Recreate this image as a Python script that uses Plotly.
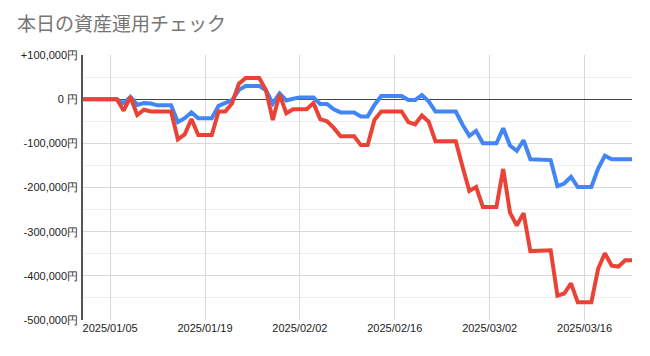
import pandas as pd
import plotly.graph_objects as go

dates = pd.date_range("2025-01-01", "2025-03-23", freq="D")

blue_values = [
    0, 0, 0, 0, 0, 0, -9000, 5000, -13000, -9000,
    -10000, -14000, -14000, -14000, -52000, -43000, -30000, -43000, -43000, -43000,
    -15000, -9000, -2000, 21000, 30000, 30000, 30000, 20000, -10000, 13000,
    -3000, 1000, 4000, 4000, 4000, -11000, -11000, -23000, -30000, -30000,
    -30000, -39000, -39000, -13000, 7000, 7000, 7000, 7000, -2000, -2000,
    9000, -5000, -28000, -28000, -28000, -28000, -58000, -83000, -72000, -100000,
    -100000, -100000, -66000, -105000, -117000, -93000, -136000, -136000, -136000, -138000,
    -197000, -191000, -176000, -199000, -199000, -199000, -157000, -128000, -136000, -136000,
    -136000, -136000,
]

red_values = [
    0, 0, 0, 0, 0, 0, -26000, 5000, -36000, -24000,
    -28000, -28000, -28000, -28000, -91000, -80000, -45000, -81000, -81000, -81000,
    -28000, -28000, -9000, 35000, 48000, 48000, 48000, 20000, -47000, 11000,
    -32000, -23000, -23000, -23000, -9000, -45000, -50000, -65000, -84000, -84000,
    -84000, -104000, -104000, -47000, -28000, -28000, -28000, -28000, -52000, -57000,
    -37000, -51000, -95000, -95000, -95000, -95000, -153000, -208000, -199000, -244000,
    -244000, -244000, -158000, -257000, -286000, -258000, -344000, -344000, -344000, -342000,
    -445000, -440000, -417000, -460000, -460000, -460000, -384000, -349000, -377000, -379000,
    -365000, -365000,
]

y_tickvals = [100000, 0, -100000, -200000, -300000, -400000, -500000]
y_ticktext = ["+100,000円", "0 円", "-100,000円", "-200,000円", "-300,000円", "-400,000円", "-500,000円"]

x_tickvals = ["2025-01-05", "2025-01-19", "2025-02-02", "2025-02-16", "2025-03-02", "2025-03-16"]
x_ticktext = ["2025/01/05", "2025/01/19", "2025/02/02", "2025/02/16", "2025/03/02", "2025/03/16"]

fig = go.Figure()
fig.add_trace(go.Scatter(x=dates, y=blue_values, mode="lines",
                         line=dict(color="#4285F4", width=4), showlegend=False))
fig.add_trace(go.Scatter(x=dates, y=red_values, mode="lines",
                         line=dict(color="#EA4335", width=4), showlegend=False))

fig.update_layout(
    width=650, height=356,
    margin=dict(l=83, r=18, t=55, b=36),
    paper_bgcolor="white", plot_bgcolor="white",
    font=dict(family="Liberation Sans, Arial, sans-serif", size=11, color="#222222"),
    title=dict(text="本日の資産運用チェック",
               font=dict(family="Noto Sans CJK JP", size=19, color="#757575"),
               x=17/650, xref="container", xanchor="left",
               y=1-24/356, yref="container", yanchor="middle"),
)

fig.update_xaxes(
    range=["2025-01-01", "2025-03-23"],
    tickmode="array", tickvals=x_tickvals, ticktext=x_ticktext,
    showgrid=True, gridcolor="#d9d9d9", gridwidth=1,
    showline=False, zeroline=False, ticks="",
    tickfont=dict(size=11, color="#222222"),
)

fig.update_yaxes(
    range=[-500000, 100000],
    tickmode="array", tickvals=y_tickvals, ticktext=y_ticktext,
    showgrid=True, gridcolor="#d9d9d9", gridwidth=1,
    minor=dict(tickmode="linear", tick0=0, dtick=50000, showgrid=True,
               gridcolor="#eeeeee", gridwidth=1),
    zeroline=True, zerolinecolor="#444444", zerolinewidth=1,
    showline=True, linecolor="#555555", linewidth=1.5,
    ticks="", ticklabelstandoff=1,
    tickfont=dict(size=11, color="#222222"),
)

fig.write_html("out.html")
